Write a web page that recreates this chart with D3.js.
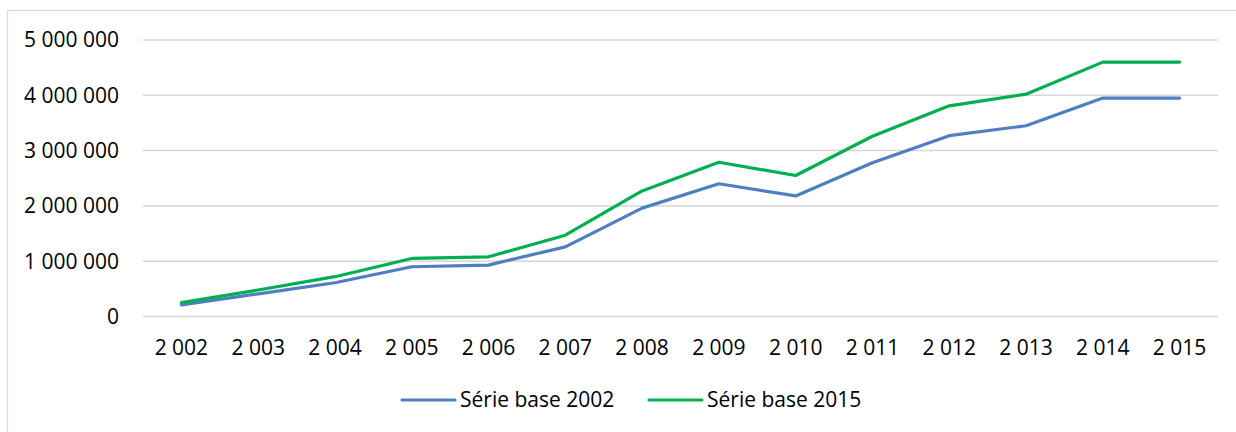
<!DOCTYPE html>
<html>
<head>
<meta charset="utf-8">
<script src="https://cdn.jsdelivr.net/npm/d3@7"></script>
<style>
  body { margin: 0; background: #fff; }
  text { font-family: "Open Sans", "Liberation Sans", sans-serif; fill: #000; }
</style>
</head>
<body>
<div id="chart"></div>
<script>
const years = [2002, 2003, 2004, 2005, 2006, 2007, 2008, 2009, 2010, 2011, 2012, 2013, 2014, 2015];
const serie2002 = [210000, 410000, 610000, 900000, 930000, 1260000, 1960000, 2400000, 2180000, 2780000, 3270000, 3450000, 3950000, 3950000];
const serie2015 = [250000, 480000, 720000, 1050000, 1080000, 1470000, 2270000, 2790000, 2550000, 3260000, 3810000, 4020000, 4600000, 4600000];
const yTicks = [0, 1000000, 2000000, 3000000, 4000000, 5000000];
const seriesNames = ["Série base 2002", "Série base 2015"];
const colors = ["#4e7fc2", "#00b050"];

const w = 1236, h = 432;
const margin = {top: 40, right: 18, bottom: 115.5, left: 143};

const locale = d3.formatLocale({decimal: ",", thousands: " ", grouping: [3], currency: ["", " €"]});
const fmt = locale.format(",");

let svg = d3.select('#chart').append('svg')
    .attr('width', w)
    .attr('height', h);

// chart area border
svg.append('rect')
    .attr('x', 7.5)
    .attr('y', 10.5)
    .attr('width', w)
    .attr('height', h)
    .attr('fill', 'none')
    .attr('stroke', '#d9d9d9')
    .attr('stroke-width', 1.3);

let xScale = d3.scalePoint()
    .domain(years)
    .range([margin.left, w - margin.right])
    .padding(0.5);

let yScale = d3.scaleLinear()
    .domain([0, 5000000])
    .range([h - margin.bottom, margin.top]);

// gridlines
svg.append('g').selectAll('line')
    .data(yTicks)
    .enter()
    .append('line')
        .attr('x1', margin.left)
        .attr('x2', w - margin.right)
        .attr('y1', d => yScale(d))
        .attr('y2', d => yScale(d))
        .style('stroke', '#d6d6d6')
        .style('stroke-width', 1.5);

// y labels
svg.append('g').selectAll('text')
    .data(yTicks)
    .enter()
    .append('text')
        .attr('x', 119)
        .attr('y', d => yScale(d))
        .attr('dy', '0.35em')
        .attr('text-anchor', 'end')
        .style('font-size', '21px')
        .text(d => fmt(d));

// x labels
svg.append('g').selectAll('text')
    .data(years)
    .enter()
    .append('text')
        .attr('x', d => xScale(d))
        .attr('y', 348)
        .attr('dy', '0.35em')
        .attr('text-anchor', 'middle')
        .style('font-size', '21px')
        .text(d => fmt(d));

let line = d3.line()
    .x((d, i) => xScale(years[i]))
    .y(d => yScale(d));

[serie2002, serie2015].forEach((s, i) => {
    svg.append('path')
        .datum(s)
        .attr('fill', 'none')
        .attr('stroke', colors[i])
        .attr('stroke-width', 3.2)
        .attr('stroke-linejoin', 'round')
        .attr('stroke-linecap', 'round')
        .attr('d', line);
});

// legend
const legendX = [402, 649];
const legend = svg.append('g').selectAll('g')
    .data(seriesNames)
    .enter()
    .append('g')
        .attr('transform', (d, i) => `translate(${legendX[i]}, 400)`);

legend.append('line')
    .attr('x1', 0)
    .attr('x2', 53)
    .attr('stroke', (d, i) => colors[i])
    .attr('stroke-width', 3.2)
    .attr('stroke-linecap', 'round');

legend.append('text')
    .attr('x', 58)
    .attr('dy', '0.35em')
    .style('font-size', '21px')
    .text(d => d);
</script>
</body>
</html>
